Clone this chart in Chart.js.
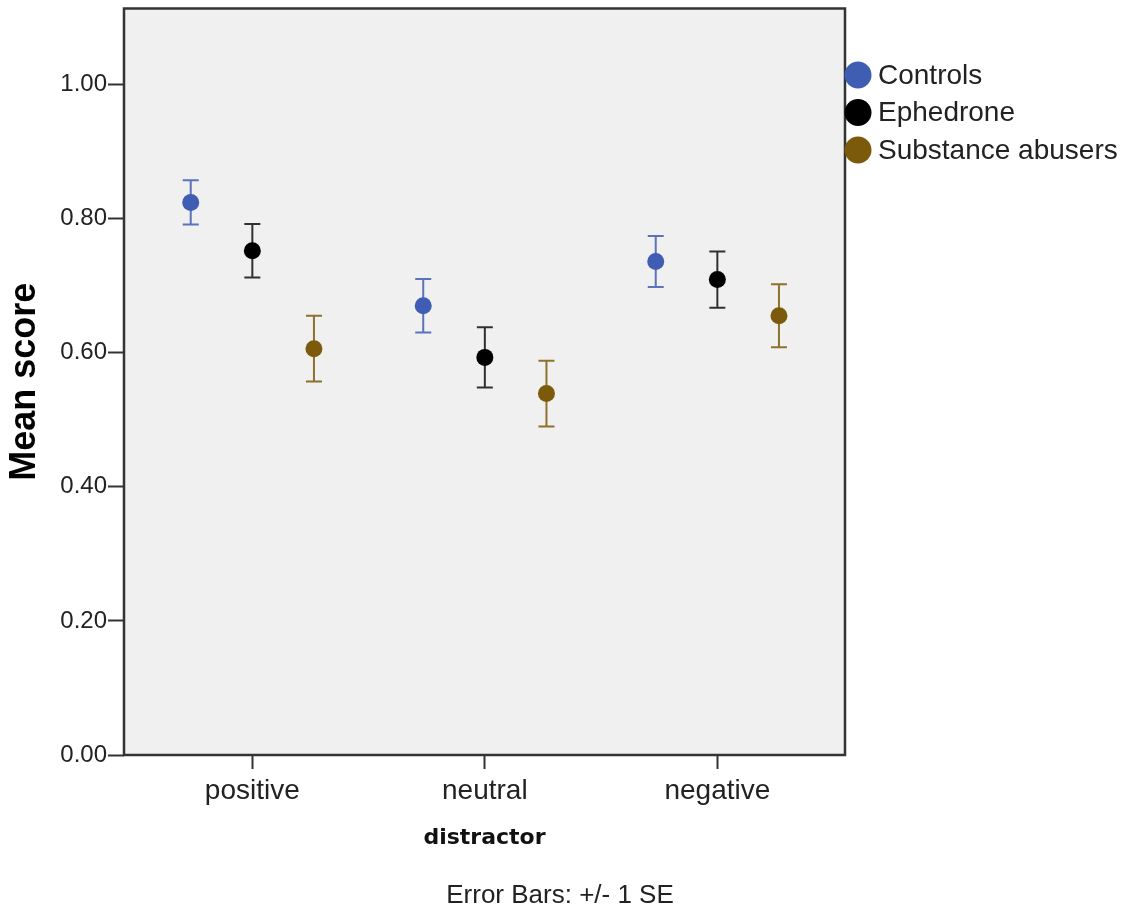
<!DOCTYPE html>
<html>
<head>
<meta charset="utf-8">
<title>Mean score by distractor</title>
<script src="https://cdn.jsdelivr.net/npm/chart.js@4/dist/chart.umd.min.js"></script>
<style>
    html, body { margin: 0; padding: 0; background: #ffffff; }
    #wrap { width: 1136px; height: 916px; }
</style>
</head>
<body>
<div id="wrap"><canvas id="chart" width="1136" height="916"></canvas></div>
<script>
// distractor categories on the x axis
const categories = ['positive', 'neutral', 'negative'];
const groups = ['Controls', 'Ephedrone', 'Substance abusers'];
const groupColors = ['#3f5db3', '#000000', '#7b5a0b'];
const barColors = ['rgba(63, 93, 179, 0.85)', 'rgba(0, 0, 0, 0.8)', 'rgba(123, 90, 11, 0.85)'];

// means per group (positive, neutral, negative)
const controlsMean = [0.824, 0.670, 0.736];
const ephedroneMean = [0.752, 0.593, 0.709];
const abusersMean = [0.606, 0.539, 0.655];

// standard errors (half length of the bars)
const controlsSE = [0.033, 0.040, 0.038];
const ephedroneSE = [0.040, 0.045, 0.042];
const abusersSE = [0.049, 0.049, 0.047];

const yTicks = [0, 0.2, 0.4, 0.6, 0.8, 1.0];
const groupShift = [-0.265, 0, 0.265];

const means = [controlsMean, ephedroneMean, abusersMean];
const errors = [controlsSE, ephedroneSE, abusersSE];

const datasets = groups.map((name, g) => ({
    label: name,
    data: categories.map((c, i) => ({ x: i + groupShift[g], y: means[g][i], se: errors[g][i] })),
    backgroundColor: groupColors[g],
    borderColor: groupColors[g],
    pointRadius: 8.5,
    pointBorderWidth: 0,
    showLine: false
}));

// grey plot background + frame
const plotFrame = {
    id: 'plotFrame',
    beforeDraw(chart) {
        const { ctx, chartArea: a } = chart;
        ctx.save();
        ctx.fillStyle = '#f0f0f0';
        ctx.fillRect(a.left, a.top, a.right - a.left, a.bottom - a.top);
        ctx.restore();
    },
    afterDraw(chart) {
        const { ctx, chartArea: a } = chart;
        ctx.save();
        ctx.strokeStyle = '#333333';
        ctx.lineWidth = 2.5;
        ctx.strokeRect(a.left, a.top, a.right - a.left, a.bottom - a.top);
        ctx.restore();
    }
};

// +/- 1 SE bars drawn under the points
const errorBars = {
    id: 'errorBars',
    beforeDatasetsDraw(chart) {
        const { ctx } = chart;
        const yScale = chart.scales.y;
        ctx.save();
        chart.data.datasets.forEach((ds, g) => {
            const meta = chart.getDatasetMeta(g);
            ctx.strokeStyle = barColors[g];
            ctx.lineWidth = 2;
            ds.data.forEach((d, i) => {
                const px = meta.data[i].x;
                const top = yScale.getPixelForValue(d.y + d.se);
                const bot = yScale.getPixelForValue(d.y - d.se);
                ctx.beginPath();
                ctx.moveTo(px, top);
                ctx.lineTo(px, bot);
                ctx.moveTo(px - 8, top);
                ctx.lineTo(px + 8, top);
                ctx.moveTo(px - 8, bot);
                ctx.lineTo(px + 8, bot);
                ctx.stroke();
            });
        });
        ctx.restore();
    }
};

// legend on the right and the note under the axis
const sideText = {
    id: 'sideText',
    afterDraw(chart) {
        const { ctx, chartArea: a } = chart;
        ctx.save();
        ctx.font = '28px "Liberation Sans", Arial, sans-serif';
        ctx.textBaseline = 'middle';
        ctx.textAlign = 'left';
        groups.forEach((name, g) => {
            const cy = 75 + g * 37.5;
            ctx.fillStyle = groupColors[g];
            ctx.beginPath();
            ctx.arc(a.right + 13, cy, 13.5, 0, Math.PI * 2);
            ctx.fill();
            ctx.fillStyle = '#222222';
            ctx.fillText(name, a.right + 33, cy + 1);
        });
        ctx.font = '26px "Liberation Sans", Arial, sans-serif';
        ctx.textAlign = 'center';
        ctx.fillStyle = '#222222';
        ctx.fillText('Error Bars: +/- 1 SE', 560, 896);
        ctx.restore();
    }
};

new Chart(document.getElementById('chart').getContext('2d'), {
    type: 'scatter',
    data: { datasets: datasets },
    plugins: [plotFrame, errorBars, sideText],
    options: {
        responsive: false,
        animation: false,
        layout: { padding: { top: 8, right: 291, left: 0, bottom: 0 } },
        plugins: {
            legend: { display: false },
            tooltip: { enabled: false }
        },
        scales: {
            x: {
                type: 'linear',
                min: -0.552,
                max: 2.549,
                afterFit(scale) {
                    scale.height = 161;
                    scale.paddingLeft = 0;
                    scale.paddingRight = 0;
                },
                afterBuildTicks(scale) { scale.ticks = categories.map((c, i) => ({ value: i })); },
                border: { display: false },
                grid: {
                    drawOnChartArea: false,
                    drawTicks: true,
                    tickLength: 14,
                    tickColor: '#333333',
                    tickWidth: 2
                },
                ticks: {
                    padding: 5,
                    color: '#222222',
                    font: { family: '"Liberation Sans", Arial, sans-serif', size: 28 },
                    callback: (v) => categories[v]
                },
                title: {
                    display: true,
                    text: 'distractor',
                    color: '#111111',
                    font: { family: '"DejaVu Sans", sans-serif', size: 22, weight: 'bold' },
                    padding: { top: 0, bottom: 65 }
                }
            },
            y: {
                min: 0,
                max: 1.1133,
                afterFit(scale) {
                    scale.width = 124;
                    scale.paddingTop = 0;
                    scale.paddingBottom = 0;
                },
                afterBuildTicks(scale) { scale.ticks = yTicks.map(v => ({ value: v })); },
                border: { display: false },
                grid: {
                    drawOnChartArea: false,
                    drawTicks: true,
                    tickLength: 16,
                    tickColor: '#333333',
                    tickWidth: 2
                },
                ticks: {
                    padding: 1,
                    color: '#222222',
                    font: { family: '"Liberation Sans", Arial, sans-serif', size: 24 },
                    callback: (v) => Number(v).toFixed(2)
                },
                title: {
                    display: true,
                    text: 'Mean score',
                    color: '#000000',
                    font: { family: '"Liberation Sans", Arial, sans-serif', size: 36, weight: 'bold' },
                    padding: { top: 3, bottom: 0 }
                }
            }
        }
    }
});
</script>
</body>
</html>
